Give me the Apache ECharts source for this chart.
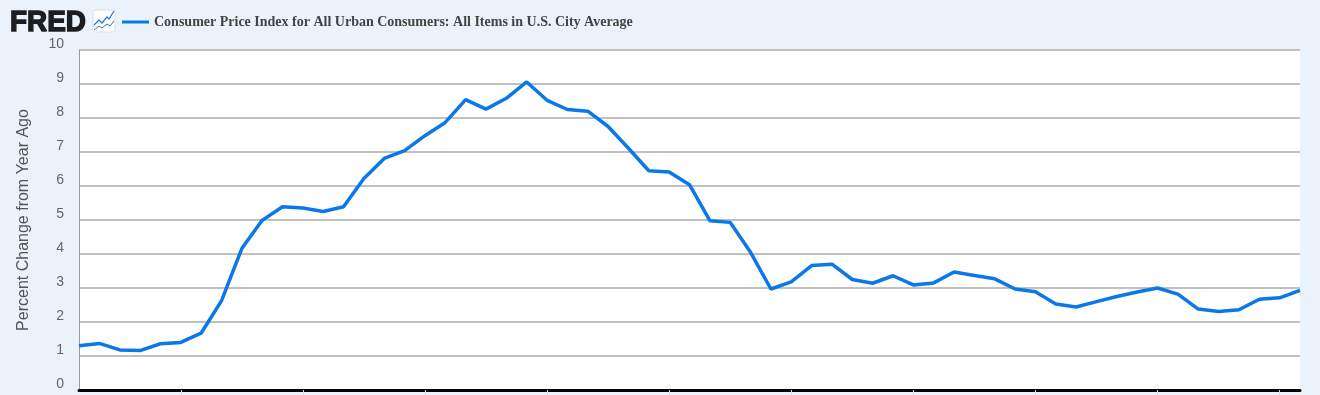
<!DOCTYPE html>
<html><head><meta charset="utf-8">
<style>html,body{margin:0;padding:0;background:#eaf2fb}#c{width:1320px;height:395px}</style>
<script src="https://cdn.jsdelivr.net/npm/echarts@6/dist/echarts.min.js"></script>
</head><body><div id="c"></div>
<script>
const seriesName = 'Consumer Price Index for All Urban Consumers: All Items in U.S. City Average';
const yAxisName = 'Percent Change from Year Ago';
const categories = [
 '2020-12','2021-01','2021-02','2021-03','2021-04','2021-05','2021-06','2021-07','2021-08','2021-09','2021-10','2021-11',
 '2021-12','2022-01','2022-02','2022-03','2022-04','2022-05','2022-06','2022-07','2022-08','2022-09','2022-10','2022-11',
 '2022-12','2023-01','2023-02','2023-03','2023-04','2023-05','2023-06','2023-07','2023-08','2023-09','2023-10','2023-11',
 '2023-12','2024-01','2024-02','2024-03','2024-04','2024-05','2024-06','2024-07','2024-08','2024-09','2024-10','2024-11',
 '2024-12','2025-01','2025-02','2025-03','2025-04','2025-05','2025-06','2025-07','2025-08','2025-09','2025-10','2025-11','2025-12'];
const cpiValues = [
 1.30,1.37,1.18,1.16,1.36,1.40,1.67,2.62,4.16,4.99,5.39,5.35,
 5.25,5.39,6.22,6.81,7.04,7.48,7.87,8.54,8.26,8.58,9.06,8.52,
 8.25,8.20,7.75,7.11,6.45,6.41,6.04,4.98,4.93,4.05,2.97,3.18,
 3.66,3.70,3.25,3.14,3.36,3.09,3.15,3.47,3.37,3.27,2.97,2.89,
 2.53,2.44,2.60,2.75,2.88,3.00,2.82,2.38,2.31,2.36,2.67,2.71,2.93];
const yMin = 0, yMax = 10, yStep = 1;

const chart = echarts.init(document.getElementById('c'), null, {renderer:'canvas'});
chart.setOption({
  animation:false,
  backgroundColor:'#eaf2fb',
  legend:{
    left:117, top:10, icon:'rect', itemWidth:27, itemHeight:3, itemGap:4,
    textStyle:{fontFamily:'"Liberation Serif"',fontWeight:'bold',fontSize:14,color:'#444'},
    data:[seriesName]
  },
  grid:{left:79, right:20, top:50, bottom:5, backgroundColor:'#fff', show:true, borderWidth:0},
  xAxis:{
    type:'category', data:categories, boundaryGap:false,
    axisLine:{show:true,lineStyle:{color:'#000',width:3}},
    axisLabel:{show:false},
    axisTick:{show:true,length:10,lineStyle:{color:'#d5dfe9',width:1},
      interval:(i)=>(i%6===5)},
    splitLine:{show:false}
  },
  yAxis:{
    type:'value', min:yMin, max:yMax, interval:yStep,
    name:yAxisName, nameLocation:'middle', nameGap:47,
    nameTextStyle:{fontFamily:'"Liberation Sans"',fontSize:16,color:'#555'},
    axisLine:{show:true,lineStyle:{color:'#999',width:1}},
    axisTick:{show:false},
    axisLabel:{margin:15,verticalAlign:'bottom',padding:[0,0,-1,0],fontFamily:'"Liberation Sans"',fontSize:14,color:'#666'},
    splitLine:{show:true,lineStyle:{color:'#c0c0c0',width:2}}
  },
  series:[{
    name:seriesName,type:'line',data:cpiValues,showSymbol:false,symbol:'none',
    lineStyle:{color:'#0a78e8',width:3.5},itemStyle:{color:'#0a78e8'},z:5
  }],
  graphic:[
    {type:'text',x:10,y:8,scaleX:0.93,style:{text:'FRED',font:'bold 30px "Liberation Sans"',fill:'#1d1d1f',stroke:'#1d1d1f',lineWidth:1.5}},
    {type:'rect',shape:{x:93,y:10,width:22,height:22,r:2},style:{fill:'#fff',stroke:'#dde',lineWidth:1}},
    {type:'polyline',shape:{points:[[94,25],[99,20],[102,23],[107,17],[109,19],[114,11]]},style:{fill:'none',stroke:'#1a78dc',lineWidth:1.2}},
    {type:'polyline',shape:{points:[[94,30],[99,26],[102,28],[107,24],[110,26],[114,21]]},style:{fill:'none',stroke:'#3a6fb0',lineWidth:1}}
  ]
});
</script></body></html>
